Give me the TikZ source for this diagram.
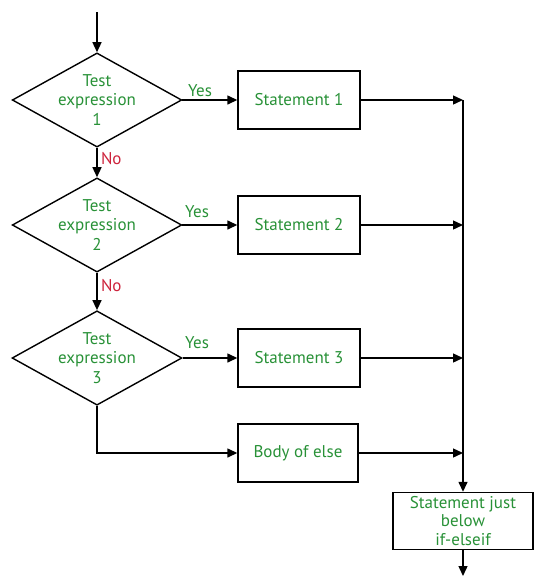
\documentclass[tikz,border=0pt]{standalone}
\usepackage{fontspec}
\setmainfont{PT Sans}
\usetikzlibrary{shapes.geometric,arrows.meta}
\definecolor{textgreen}{RGB}{40,145,55}
\definecolor{nored}{RGB}{205,35,60}

\begin{document}
\begin{tikzpicture}[x=1pt,y=-1pt,
    test/.style={diamond,draw,line width=1.4pt,inner sep=0pt,aspect=1.8,
        minimum width=169pt,minimum height=94pt,align=center,
        text=textgreen,font=\fontsize{17}{19.5}\selectfont},
    stmt/.style={rectangle,draw,line width=1.4pt,minimum width=122pt,
        minimum height=58pt,align=center,text=textgreen,
        font=\fontsize{17}{18.5}\selectfont},
    arr/.style={line width=1.4pt,-{Triangle[length=10pt,width=9pt]}},
    yes/.style={text=textgreen,font=\fontsize{17}{19}\selectfont},
    no/.style={text=nored,font=\fontsize{17}{19}\selectfont,anchor=west}]
    \useasboundingbox (0,0) rectangle (534,576);

    % Tests
    \coordinate (start) at (97,12);
    \node[test] (t1) at (97,100) {Test\\expression\\1};
    \node[test] (t2) at (97,225) {Test\\expression\\2};
    \node[test] (t3) at (97,358) {Test\\expression\\3};

    % Statements
    \node[stmt] (s1) at (299,100) {Statement 1};
    \node[stmt] (s2) at (299,225) {Statement 2};
    \node[stmt] (s3) at (299,358) {Statement 3};
    \node[stmt,minimum width=120pt] (else) at (298,453) {Body of else};
    \node[stmt,minimum width=140pt,minimum height=57pt,inner sep=1pt] (after) at (463,521) {Statement just\\below\\if-elseif};

    % Merge line
    \coordinate (m1) at (463,100);
    \coordinate (m2) at (463,225);
    \coordinate (m3) at (463,358);
    \coordinate (m4) at (463,453);
    \coordinate (stop) at (463,576);

    % Flow
    \draw[arr] (start) -- (t1.north);
    \draw[arr] (t1.south) -- node[no,pos=0.35] (no1) {No} (t2.north);
    \draw[arr] (t2.south) -- node[no,pos=0.35] (no2) {No} (t3.north);
    \draw[arr] (t1.east) -- (s1.west);
    \draw[arr] (t2.east) -- (s2.west);
    \draw[arr] (t3.east) -- (s3.west);
    \draw[arr] (t3.south) |- (else.west);
    \node[yes] (yes1) at (200,91) {Yes};
    \node[yes] (yes2) at (197,212) {Yes};
    \node[yes] (yes3) at (197,343) {Yes};

    \draw[arr] (s1.east) -- (m1);
    \draw[arr] (s2.east) -- (m2);
    \draw[arr] (s3.east) -- (m3);
    \draw[arr] (else.east) -- (m4);
    \draw[arr] (m1) -- (after.north);
    \draw[arr] (after.south) -- (stop);
\end{tikzpicture}
\end{document}
